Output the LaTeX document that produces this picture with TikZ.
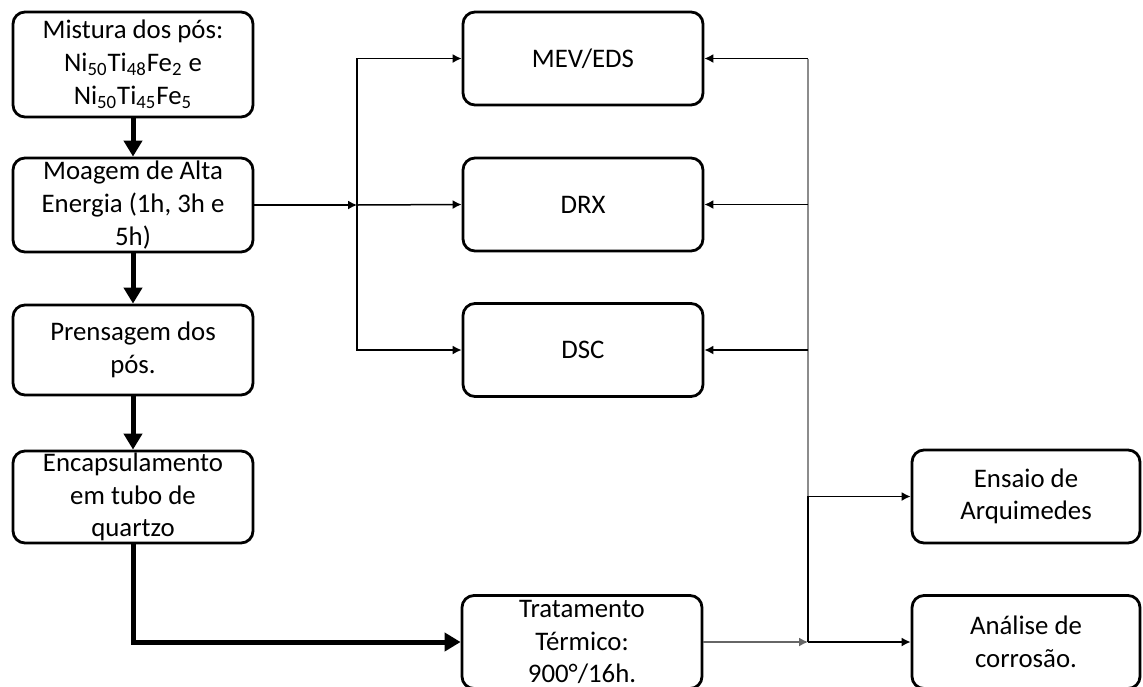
\documentclass[tikz,border=0pt]{standalone}
\usepackage{fontspec}
\setmainfont{Carlito}
\usetikzlibrary{arrows.meta, positioning}
\tikzset{
  stage/.style={rectangle, rounded corners=6pt, draw, line width=1.4pt, minimum width=120pt, minimum height=47pt, align=center, inner sep=0pt, font=\fontsize{13.4}{16.3}\selectfont},
  probe/.style={stage, minimum height=46.5pt},
  result/.style={stage, minimum width=114pt, minimum height=46.5pt},
  link/.style={-{Latex[length=4.5pt, width=4.5pt]}, line width=0.75pt},
  busline/.style={line width=1pt, draw=black!45},
  bigflow/.style={-{Triangle[length=8pt, width=9pt]}, line width=2.5pt},
}
\begin{document}
\begin{tikzpicture}[x=0.5pt, y=-0.5pt]
  \useasboundingbox (0,0) rectangle (1143,686);

  % preparation chain
  \node[stage, minimum height=52.5pt] (mistura) at (133,64.5) {Mistura dos pós:\\Ni\textsubscript{50}Ti\textsubscript{48}Fe\textsubscript{2} e\\Ni\textsubscript{50}Ti\textsubscript{45}Fe\textsubscript{5}};
  \node[stage] (moagem) at (133,205) {Moagem de Alta\\Energia (1h, 3h e\\5h)};
  \node[stage, minimum height=45pt] (prensagem) at (133,350) {Prensagem dos\\pós.};
  \node[stage, minimum height=46pt] (encaps) at (133,497) {Encapsulamento\\em tubo de\\quartzo};

  % characterisation
  \node[probe] (mev) at (583,58.5) {MEV/EDS};
  \node[probe] (drx) at (583,204.5) {DRX};
  \node[probe] (dsc) at (583,350) {DSC};
  \node[probe] (tratamento) at (582,642) {Tratamento\\Térmico:\\900°/16h.};
  \node[result] (ensaio) at (1026,496.5) {Ensaio de\\Arquimedes};
  \node[result] (analise) at (1026,642) {Análise de\\corrosão.};

  \coordinate (split) at (357,205);
  \coordinate (bus) at (808,642);

  \draw[bigflow] (mistura) -- (moagem);
  \draw[bigflow] (moagem) -- (prensagem);
  \draw[bigflow] (prensagem) -- (encaps);
  \draw[bigflow] (encaps.south) |- (tratamento.west);

  \draw[link] (moagem.east) -- (split);
  \draw[link] (split) |- (mev.west);
  \draw[link] (split) -- (drx.west);
  \draw[link] (split) |- (dsc.west);

  \draw[busline] (bus |- ensaio.west) -- (bus |- mev.east);
  \draw[link] (bus |- mev.east) -- (mev.east);
  \draw[link] (bus |- drx.east) -- (drx.east);
  \draw[link] (bus |- dsc.east) -- (dsc.east);
  \draw[link, draw=black!60] (tratamento.east) -- (bus);
  \draw[link] (bus) |- (ensaio.west);
  \draw[link] (bus) -- (analise.west);
\end{tikzpicture}
\end{document}
